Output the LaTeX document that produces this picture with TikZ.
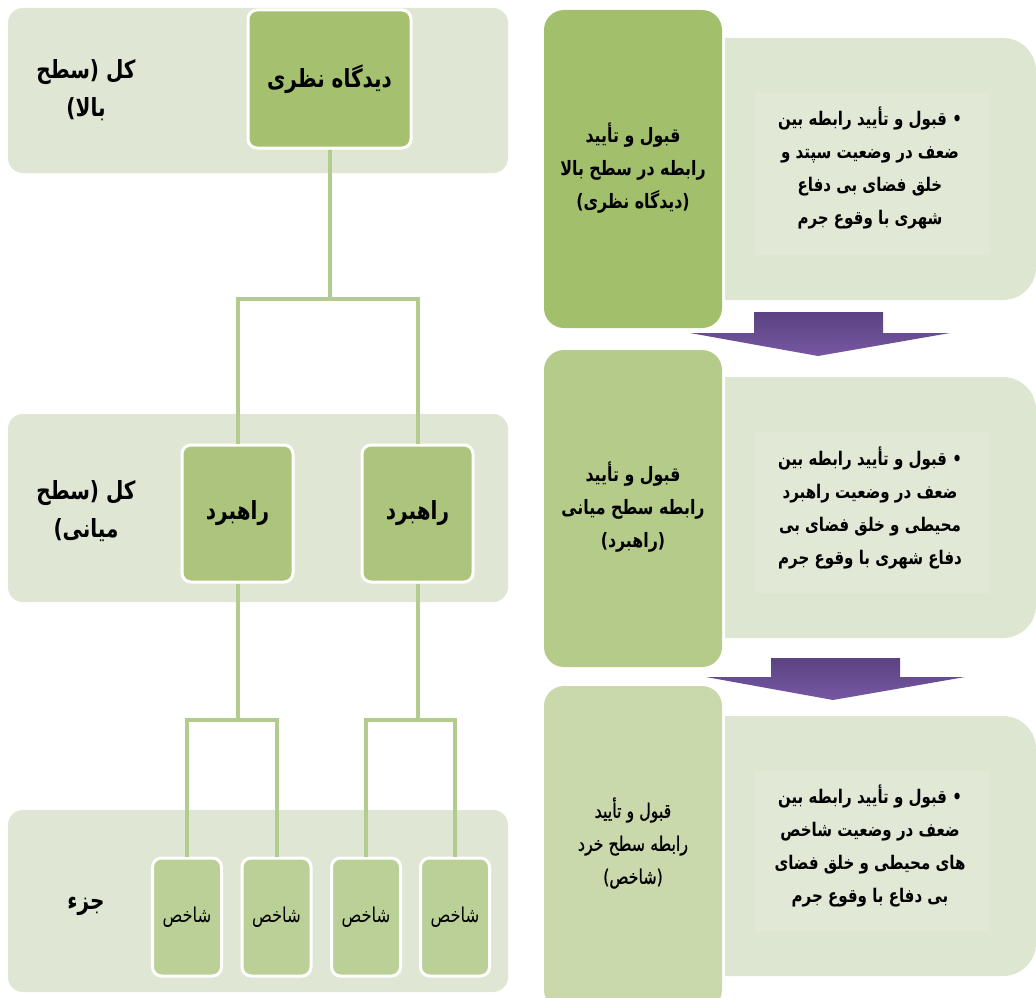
\documentclass[tikz,border=0pt]{standalone}
\usepackage{fontspec}
\newfontfamily\fa[Script=Arabic,FakeStretch=0.8]{DejaVu Sans}
\newfontfamily\famed[Script=Arabic,FakeStretch=0.8,FakeBold=0.9]{DejaVu Sans}
\TeXXeTstate=1
\newcommand\rtlline[1]{\beginR #1\endR}
\definecolor{bandc}{RGB}{223,231,212}
\definecolor{lightc}{RGB}{221,230,209}
\definecolor{innerc}{RGB}{225,233,214}
\definecolor{gA}{RGB}{162,191,107}
\definecolor{gB}{RGB}{181,203,138}
\definecolor{gC}{RGB}{201,217,172}
\definecolor{topc}{RGB}{165,192,111}
\definecolor{midc}{RGB}{173,196,124}
\definecolor{smallc}{RGB}{187,208,150}
\definecolor{linec}{RGB}{179,203,140}
\definecolor{purpA}{RGB}{92,66,130}
\definecolor{purpB}{RGB}{118,88,162}
\tikzset{
  band/.style={fill=bandc, rounded corners=15pt, inner sep=0pt},
  treebox/.style={fill=#1, draw=white, line width=3pt, rounded corners=9pt, inner sep=0pt, text=black},
  bigtxt/.style={font=\fa\bfseries\fontsize{25}{38}\selectfont, align=center},
  smalltxt/.style={font=\fa\fontsize{20.5}{22}\selectfont},
  conn/.style={draw=linec, line width=4pt},
  greenbox/.style={fill=#1, rounded corners=20pt, minimum width=178pt, inner sep=0pt},
  gtxt/.style={font=\fa\bfseries\fontsize{19.8}{33}\selectfont, align=center},
  rtxt/.style={font=\fa\bfseries\fontsize{18.8}{33}\selectfont, align=center},
  purparrow/.style={top color=purpA, bottom color=purpB, draw=none},
}
\begin{document}
\begin{tikzpicture}[x=1pt,y=-1pt]
\useasboundingbox (0,0) rectangle (1036,998);
% ---------- left: bands ----------
\node[band, minimum width=500pt, minimum height=165pt] (band1) at (258,90.5) {};
\node[band, minimum width=500pt, minimum height=188pt] (band2) at (258,508) {};
\node[band, minimum width=500pt, minimum height=182pt] (band3) at (258,901) {};
\node[bigtxt] (lab1) at (86,90) {\rtlline{کل (سطح}\\\rtlline{بالا)}};
\node[bigtxt] (lab2) at (86,511) {\rtlline{کل (سطح}\\\rtlline{میانی)}};
\node[bigtxt] (lab3) at (86,906) {\rtlline{جزء}};
% ---------- tree ----------
\node[treebox=topc, minimum width=163pt, minimum height=138pt, bigtxt] (vis) at (329.5,79) {\rtlline{دیدگاه نظری}};
\node[treebox=midc, minimum width=111pt, minimum height=137pt, bigtxt] (m1) at (237.5,513.5) {\rtlline{راهبرد}};
\node[treebox=midc, minimum width=111pt, minimum height=137pt, bigtxt] (m2) at (417.5,513.5) {\rtlline{راهبرد}};
\foreach \i/\x in {1/187,2/276.5,3/366,4/455}{
  \node[treebox=smallc, minimum width=69pt, minimum height=118pt, smalltxt] (s\i) at (\x,917) {\rtlline{شاخص}};
}
\draw[conn] (vis.south) -- ++(0,149) -| (m1.north);
\draw[conn] (vis.south) -- ++(0,149) -| (m2.north);
\draw[conn] (m1.south) -- ++(0,136) -| (s1.north);
\draw[conn] (m1.south) -- ++(0,136) -| (s2.north);
\draw[conn] (m2.south) -- ++(0,136) -| (s3.north);
\draw[conn] (m2.south) -- ++(0,136) -| (s4.north);
% ---------- right: light boxes ----------
\foreach \t/\b in {38/300,377/638,716/976}{
  \fill[lightc] (725,\t) -- (1003,\t) arc[start angle=-90,end angle=0,radius=33] -- (1036,\b-33) arc[start angle=0,end angle=90,radius=33] -- (725,\b) -- cycle;
  \fill[innerc] (755,\t+55) rectangle (990,\b-45);
}
% ---------- right: green boxes ----------
\node[greenbox=gA, minimum height=318pt] (g1) at (633,169) {};
\node[greenbox=gB, minimum height=317pt] (g2) at (633,508.5) {};
\node[greenbox=gC, minimum height=324pt] (g3) at (633,848) {};
\node[gtxt] (g1t) at (633,168) {\rtlline{قبول و تأیید}\\\rtlline{رابطه در سطح بالا}\\\rtlline{(دیدگاه نظری)}};
\node[gtxt] (g2t) at (633,507) {\rtlline{قبول و تأیید}\\\rtlline{رابطه سطح میانی}\\\rtlline{(راهبرد)}};
\node[gtxt, font=\famed\fontsize{19.8}{33}\selectfont] (g3t) at (633,843) {\rtlline{قبول و تأیید}\\\rtlline{رابطه سطح خرد}\\\rtlline{(شاخص)}};
\node[rtxt] (r1) at (870,168) {\rtlline{• قبول و تأیید رابطه بین}\\\rtlline{ضعف در وضعیت سپتد و}\\\rtlline{خلق فضای بی دفاع}\\\rtlline{شهری با وقوع جرم}};
\node[rtxt] (r2) at (870,508) {\rtlline{• قبول و تأیید رابطه بین}\\\rtlline{ضعف در وضعیت راهبرد}\\\rtlline{محیطی و خلق فضای بی}\\\rtlline{دفاع شهری با وقوع جرم}};
\node[rtxt] (r3) at (870,846) {\rtlline{• قبول و تأیید رابطه بین}\\\rtlline{ضعف در وضعیت شاخص}\\\rtlline{های محیطی و خلق فضای}\\\rtlline{بی دفاع با وقوع جرم}};
% ---------- arrows ----------
\path[purparrow] (754,312) -- (883,312) -- (883,333) -- (950,333) -- (818,356) -- (690,333) -- (754,333) -- cycle;
\path[purparrow] (771,658) -- (900,658) -- (900,677) -- (965,677) -- (833,700) -- (706,677) -- (771,677) -- cycle;
\end{tikzpicture}
\end{document}
